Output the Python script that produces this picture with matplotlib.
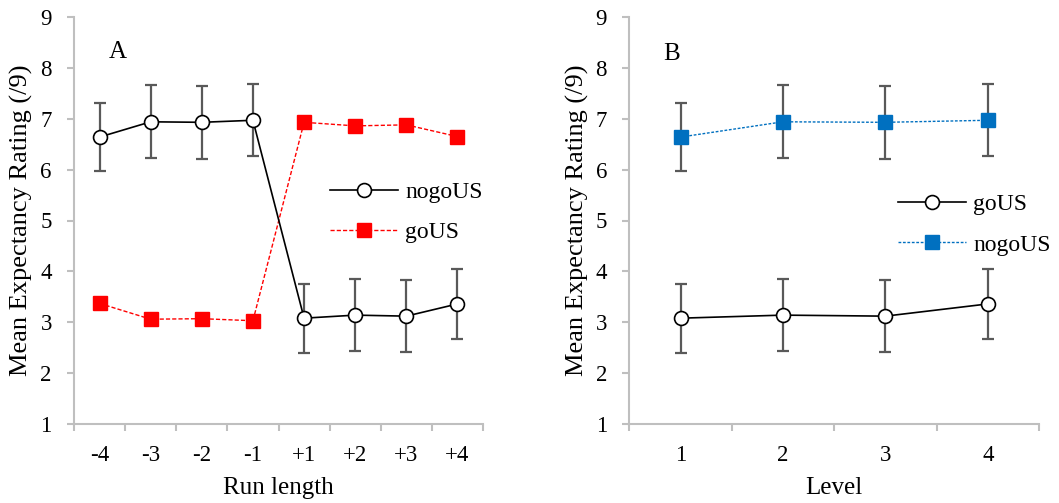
import matplotlib
matplotlib.use("Agg")
import matplotlib.pyplot as plt
import numpy as np

plt.rcParams['font.family'] = ['Liberation Serif', 'DejaVu Serif']

# Panel A: expectancy ratings by run length
run_labels = ['-4', '-3', '-2', '-1', '+1', '+2', '+3', '+4']
a_nogo = [6.64, 6.94, 6.93, 6.97, 3.08, 3.14, 3.12, 3.36]
a_nogo_err = [0.67, 0.72, 0.72, 0.71, 0.68, 0.71, 0.71, 0.69]
a_go = [3.37, 3.06, 3.07, 3.03, 6.93, 6.86, 6.88, 6.65]

# Panel B: expectancy ratings by level
level_labels = ['1', '2', '3', '4']
b_go = [3.08, 3.14, 3.12, 3.36]
b_go_err = [0.68, 0.71, 0.71, 0.69]
b_nogo = [6.64, 6.94, 6.93, 6.97]
b_nogo_err = [0.67, 0.72, 0.72, 0.71]

SPINE = '#bfbfbf'
ERR = '#595959'
RED = '#ff0000'
BLUE = '#0070c0'

fig = plt.figure(figsize=(10.59, 5.03), dpi=100)
axA = fig.add_axes([74 / 1059, 79 / 503, 409 / 1059, 407 / 503])
axB = fig.add_axes([629.3 / 1059, 79 / 503, 409.7 / 1059, 407 / 503])


def style_axes(ax, labels, xlabel):
    n = len(labels)
    ax.set_xlim(-0.5, n - 0.5)
    ax.set_ylim(1, 9)
    ax.set_yticks(np.arange(1, 10))
    ax.set_xticks(np.arange(n))
    ax.set_xticklabels(labels)
    ax.set_xticks(np.arange(n + 1) - 0.5, minor=True)
    ax.tick_params(axis='x', which='major', length=0, pad=15, labelsize=16.5)
    ax.tick_params(axis='x', which='minor', length=5, width=1.5,
                   color=SPINE, direction='out')
    ax.tick_params(axis='y', length=5, width=1.5, color=SPINE,
                   direction='out', pad=11, labelsize=16.5)
    for side in ('top', 'right'):
        ax.spines[side].set_visible(False)
    for side in ('left', 'bottom'):
        ax.spines[side].set_color(SPINE)
        ax.spines[side].set_linewidth(1.5)
    ax.set_xlabel(xlabel, fontsize=18, labelpad=8)
    ax.set_ylabel('Mean Expectancy Rating (/9)', fontsize=19, labelpad=5)


# Panel A
xa = np.arange(len(run_labels))
axA.errorbar(xa, a_nogo, yerr=a_nogo_err, fmt='none', ecolor=ERR,
             elinewidth=1.6, capsize=4.5, capthick=1.6, zorder=2)
axA.plot(xa, a_nogo, color='black', lw=1.2, marker='o', ms=10,
         mfc='white', mec='black', mew=1.2, label='nogoUS', zorder=4)
axA.plot(xa, a_go, color=RED, lw=1.0, ls=(0, (3, 1.5)), marker='s', ms=10.5,
         mfc=RED, mec=RED, label='goUS', zorder=3)
style_axes(axA, run_labels, 'Run length')
axA.text(0.085, 0.915, 'A', transform=axA.transAxes, fontsize=18,
         va='center', ha='left')
axA.legend(loc='center left', bbox_to_anchor=(0.625, 0.520), frameon=False,
           fontsize=17, handlelength=2.9, handletextpad=0.3,
           labelspacing=0.8, borderaxespad=0, borderpad=0)

# Panel B
xb = np.arange(len(level_labels))
axB.errorbar(xb, b_go, yerr=b_go_err, fmt='none', ecolor=ERR,
             elinewidth=1.6, capsize=4.5, capthick=1.6, zorder=2)
axB.errorbar(xb, b_nogo, yerr=b_nogo_err, fmt='none', ecolor=ERR,
             elinewidth=1.6, capsize=4.5, capthick=1.6, zorder=2)
axB.plot(xb, b_go, color='black', lw=1.2, marker='o', ms=10,
         mfc='white', mec='black', mew=1.2, label='goUS', zorder=4)
axB.plot(xb, b_nogo, color=BLUE, lw=1.0, ls=(0, (2, 1.2)), marker='s', ms=10.5,
         mfc=BLUE, mec=BLUE, label='nogoUS', zorder=3)
style_axes(axB, level_labels, 'Level')
axB.text(0.083, 0.91, 'B', transform=axB.transAxes, fontsize=18,
         va='center', ha='left')
axB.legend(loc='center left', bbox_to_anchor=(0.655, 0.490), frameon=False,
           fontsize=17, handlelength=2.9, handletextpad=0.3,
           labelspacing=0.8, borderaxespad=0, borderpad=0)

fig.savefig('out.png', dpi=100)
